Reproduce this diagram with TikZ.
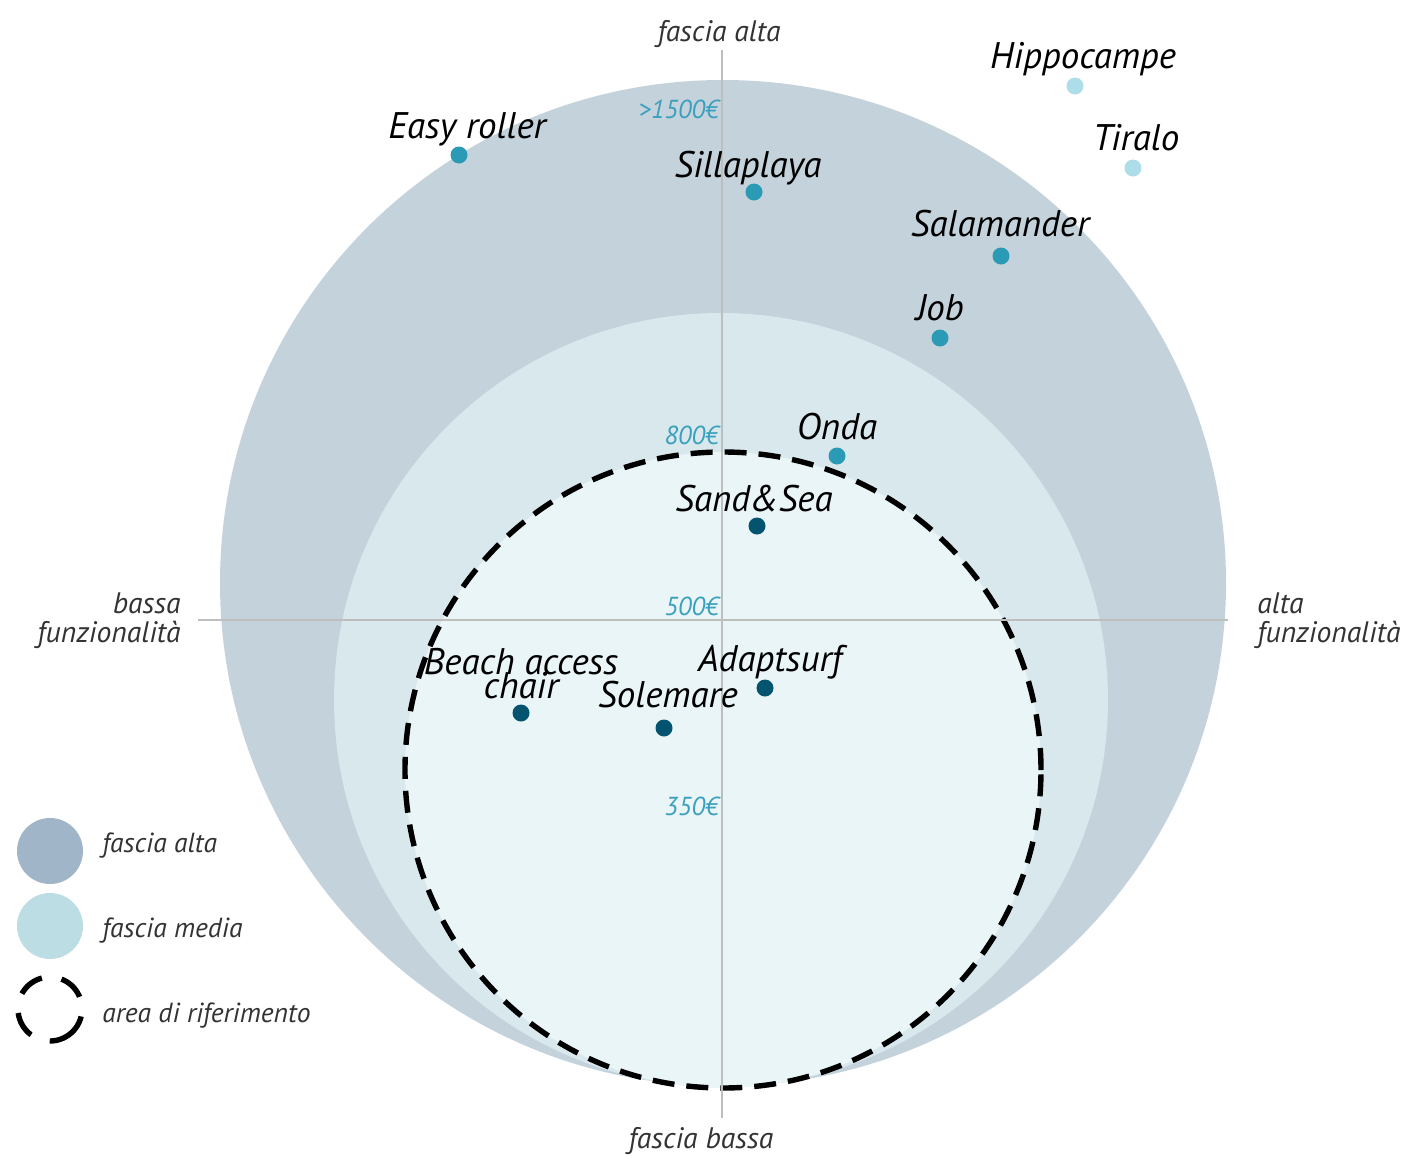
\documentclass[tikz,border=0pt]{standalone}
\usepackage{fontspec}
\setmainfont{PT Sans}
\usepackage{tikz}
\usetikzlibrary{positioning}
\usepackage{xcolor}
\definecolor{fsalta}{RGB}{196,210,219}
\definecolor{fsmedia}{RGB}{216,232,236}
\definecolor{fsrif}{RGB}{234,245,247}
\definecolor{legalta}{RGB}{160,182,200}
\definecolor{legmedia}{RGB}{188,221,227}
\definecolor{dotteal}{RGB}{43,154,181}
\definecolor{dotdark}{RGB}{4,84,112}
\definecolor{dotlight}{RGB}{173,221,232}
\definecolor{pricecol}{RGB}{58,160,189}
\definecolor{axisgray}{RGB}{190,190,190}
\definecolor{txtgray}{RGB}{51,51,51}
\newcommand{\lblfont}{\fontsize{18.5}{12}\selectfont\lineskiplimit=-20pt\relax\itshape}
\tikzstyle{dotmid} = [circle, fill=dotteal, inner sep=0pt, minimum size=8.5pt]
\tikzstyle{dotdk} = [circle, fill=dotdark, inner sep=0pt, minimum size=8.5pt]
\tikzstyle{dotlt} = [circle, fill=dotlight, inner sep=0pt, minimum size=8.5pt]
\tikzstyle{lbl} = [anchor=base, inner sep=0pt, font=\lblfont, text=black]
\tikzstyle{axislbl} = [anchor=base, inner sep=0pt, font=\fontsize{14.8}{14.5}\selectfont\itshape, text=txtgray]
\tikzstyle{price} = [anchor=base east, inner sep=0pt, font=\fontsize{13}{14}\selectfont\itshape, text=pricecol]
\tikzstyle{legtxt} = [anchor=base west, inner sep=0pt, font=\fontsize{13.8}{14}\selectfont\itshape, text=txtgray]
\tikzstyle{rifline} = [line width=2.7pt, dash pattern=on 11pt off 6pt]

\begin{document}
\begin{tikzpicture}[x=0.5pt, y=-0.5pt]
\useasboundingbox (0,0) rectangle (1410,1157);

% Fasce di prezzo
\fill[fsalta] (723,583) circle (251.5pt);
\fill[fsmedia] (721,700) circle (193.5pt);
\fill[fsrif] (723,770) circle (159pt);
\draw[rifline] (723,770) circle (159pt);

% Assi
\coordinate (top) at (722,50);
\coordinate (bottom) at (722,1118);
\coordinate (left) at (198,620);
\coordinate (right) at (1228,620);
\draw[axisgray, line width=0.6pt] (top) -- (bottom);
\draw[axisgray, line width=0.6pt] (left) -- (right);

\node[axislbl] (alta) at (719,41) {fascia alta};
\node[axislbl] (bassa) at (701,1148) {fascia bassa};
\node[axislbl, anchor=base east, align=right] (bfunz) at (181,642) {bassa\\funzionalità};
\node[axislbl, anchor=base west, align=left] (afunz) at (1257,642) {alta\\funzionalità};

% Prezzi
\node[price] (p1500) at (719,118) {>1500€};
\node[price] (p800) at (719,444) {800€};
\node[price] (p500) at (719,615) {500€};
\node[price] (p350) at (719,815) {350€};

% Prodotti
\node[dotmid] (easy) at (459,155) {};
\node[dotmid] (silla) at (754,192) {};
\node[dotmid] (salam) at (1001,256) {};
\node[dotmid] (job) at (940,338) {};
\node[dotmid] (onda) at (837,456) {};
\node[dotlt] (hippo) at (1075,86) {};
\node[dotlt] (tiralo) at (1133,168) {};
\node[dotdk] (sand) at (757,526) {};
\node[dotdk] (adapt) at (765,688) {};
\node[dotdk] (beach) at (521,713) {};
\node[dotdk] (sole) at (664,728) {};

\node[lbl] at (467,138) {Easy roller};
\node[lbl] at (748,177) {Sillaplaya};
\node[lbl] at (1000,236) {Salamander};
\node[lbl] at (940,320) {Job};
\node[lbl] at (837,439) {Onda};
\node[lbl] at (1083,68) {Hippocampe};
\node[lbl] at (1136,150) {Tiralo};
\node[lbl] at (754,511) {Sand\&Sea};
\node[lbl] at (770,671) {Adaptsurf};
\node[lbl, align=center] at (521,698) {Beach access\\chair};
\node[lbl] at (668,707) {Solemare};

% Legenda
\fill[legalta] (50,851) circle (16.5pt);
\fill[legmedia] (50,926) circle (16.5pt);
\draw[line width=2.7pt, dash pattern=on 13pt off 10pt, rotate around={-60:(50,1009)}] (50,1009) circle (16pt);
\node[legtxt] (lalta) at (102,852) {fascia alta};
\node[legtxt] (lmedia) at (102,937) {fascia media};
\node[legtxt] (lrif) at (102,1022) {area di riferimento};
\end{tikzpicture}
\end{document}
